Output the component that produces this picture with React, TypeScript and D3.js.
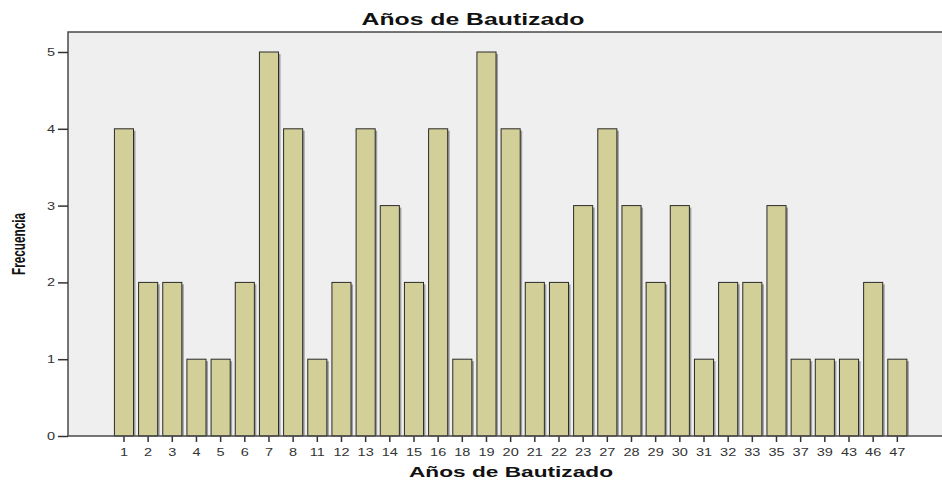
import * as d3 from "d3";
import React, { useRef, useEffect } from "react";

const years = ["1", "2", "3", "4", "5", "6", "7", "8", "11", "12", "13", "14", "15", "16", "18", "19", "20", "21", "22", "23", "27", "28", "29", "30", "31", "32", "33", "35", "37", "39", "43", "46", "47"];
const frequencies = [4, 2, 2, 1, 1, 2, 5, 4, 1, 2, 4, 3, 2, 4, 1, 5, 4, 2, 2, 3, 4, 3, 2, 3, 1, 2, 2, 3, 1, 1, 1, 2, 1];
const yTicks = [0, 1, 2, 3, 4, 5];

const W = 942;
const H = 480;
const STRETCH = 1.32; // text in the source looks widened horizontally
const FONT = "Arial, 'Liberation Sans', sans-serif";

export default function App() {
  const svgRef = useRef<SVGSVGElement | null>(null);

  useEffect(() => {
    if (!svgRef.current) return;
    const svg = d3.select(svgRef.current);
    svg.selectAll("*").remove();

    const plot = { left: 68, top: 32, right: W, bottom: 436 };

    const x = d3
      .scaleBand<string>()
      .domain(years)
      .range([112, 909.3])
      .paddingInner(0.21)
      .paddingOuter(0.1);

    const y = d3.scaleLinear().domain([0, 5]).range([plot.bottom, 52]);

    // fondo del área de trazado
    svg
      .append("rect")
      .attr("x", plot.left)
      .attr("y", plot.top)
      .attr("width", plot.right - plot.left)
      .attr("height", plot.bottom - plot.top)
      .attr("fill", "#efefef");

    const data = years.map((yr, i) => ({ yr, v: frequencies[i] }));

    // sombra de las barras
    svg
      .selectAll("rect.shadow")
      .data(data)
      .enter()
      .append("rect")
      .attr("class", "shadow")
      .attr("x", (d) => x(d.yr)! + 2)
      .attr("y", (d) => y(d.v) + 2)
      .attr("width", x.bandwidth())
      .attr("height", (d) => plot.bottom - y(d.v) - 2)
      .attr("fill", "#8a8a8a")
      .attr("opacity", 0.8);

    svg
      .selectAll("rect.bar")
      .data(data)
      .enter()
      .append("rect")
      .attr("class", "bar")
      .attr("x", (d) => x(d.yr)!)
      .attr("y", (d) => y(d.v))
      .attr("width", x.bandwidth())
      .attr("height", (d) => plot.bottom - y(d.v))
      .attr("fill", "#d3cf98")
      .attr("stroke", "#2a2a2a")
      .attr("stroke-width", 1);

    // marco: izquierda y arriba
    svg
      .append("path")
      .attr("d", `M${plot.left},${plot.bottom}V${plot.top}H${plot.right}`)
      .attr("fill", "none")
      .attr("stroke", "#4a4a4a")
      .attr("stroke-width", 1.5);

    // eje y
    const yAxis = svg
      .append("g")
      .attr("transform", `translate(${plot.left},0)`)
      .call(d3.axisLeft(y).tickValues(yTicks).tickFormat(d3.format("d")).tickSize(10).tickSizeOuter(0));
    yAxis.select(".domain").remove();
    yAxis.selectAll("line").attr("stroke", "#333").attr("stroke-width", 1.5);
    yAxis
      .selectAll("text")
      .attr("x", -13 / STRETCH)
      .attr("transform", `scale(${STRETCH},1)`)
      .style("font-family", FONT)
      .style("font-size", "11px")
      .attr("fill", "#333");

    // eje x
    const xAxis = svg
      .append("g")
      .attr("transform", `translate(0,${plot.bottom})`)
      .call(d3.axisBottom(x).tickSize(6).tickSizeOuter(0));
    xAxis.select(".domain").remove();
    xAxis.selectAll("line").attr("stroke", "#333").attr("stroke-width", 1.5);
    xAxis
      .selectAll("text")
      .attr("y", 12)
      .attr("transform", `scale(${STRETCH},1)`)
      .style("font-family", FONT)
      .style("font-size", "11px")
      .attr("fill", "#333");

    svg
      .append("line")
      .attr("x1", plot.left)
      .attr("x2", plot.right)
      .attr("y1", plot.bottom)
      .attr("y2", plot.bottom)
      .attr("stroke", "#4a4a4a")
      .attr("stroke-width", 1.5);

    // títulos
    svg
      .append("text")
      .attr("x", 473)
      .attr("y", 25)
      .attr("text-anchor", "middle")
      .attr("textLength", 223)
      .attr("lengthAdjust", "spacingAndGlyphs")
      .style("font-family", FONT)
      .style("font-size", "17px")
      .style("font-weight", "bold")
      .attr("fill", "#111")
      .text("Años de Bautizado");

    svg
      .append("text")
      .attr("x", 511)
      .attr("y", 477)
      .attr("text-anchor", "middle")
      .attr("textLength", 204)
      .attr("lengthAdjust", "spacingAndGlyphs")
      .style("font-family", FONT)
      .style("font-size", "15px")
      .style("font-weight", "bold")
      .attr("fill", "#111")
      .text("Años de Bautizado");

    svg
      .append("text")
      .attr("transform", `translate(25,244) rotate(-90)`)
      .attr("text-anchor", "middle")
      .attr("textLength", 62)
      .attr("lengthAdjust", "spacingAndGlyphs")
      .style("font-family", FONT)
      .style("font-size", "18px")
      .style("font-weight", "bold")
      .attr("fill", "#111")
      .text("Frecuencia");
  }, []);

  return (
    <svg
      ref={svgRef}
      width={W}
      height={H}
      style={{ position: "absolute", left: 0, top: 0, background: "#fff" }}
    ></svg>
  );
}
